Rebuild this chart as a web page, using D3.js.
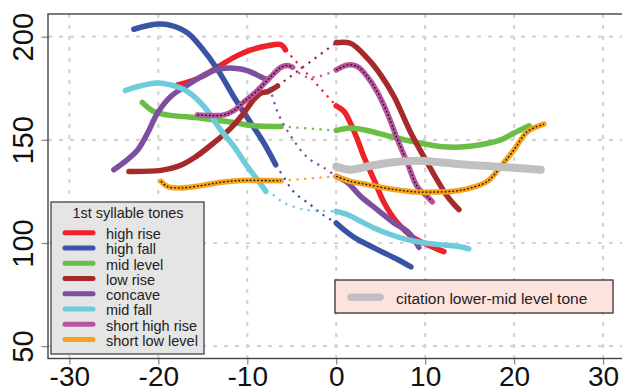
<!DOCTYPE html>
<html>
<head>
<meta charset="utf-8">
<script src="https://cdn.jsdelivr.net/npm/d3@7"></script>
<style>
  html, body { margin: 0; padding: 0; background: #fff; }
  svg { display: block; font-family: "Liberation Sans", Arial, sans-serif; }
</style>
</head>
<body>
<svg id="chart" width="622" height="391"></svg>
<script>
// F0 contours (Hz) over normalised time, first and second syllable
const toneNames = ["high rise", "high fall", "mid level", "low rise",
                   "concave", "mid fall", "short high rise", "short low level"];

const highRise1 = [[-17.8,176.6],[-15.2,180.4],[-13.35,185.2],[-11.5,190.0],[-9.6,193.6],[-7.7,195.6],[-6.2,196.1],[-5.7,193.6]];
const highRise2 = [[0,166.5],[0.9,163.7],[1.6,158.1],[2.4,150.0],[3.1,141.9],[4.25,130.7],[5.4,119.4],[6.9,109.7],[8.7,102.5],[10.25,99.2],[12.1,95.8]];

const highFall1 = [[-22.75,203.6],[-20.1,206.1],[-18.6,205.5],[-16.7,201.8],[-15.2,195.0],[-13.3,183.9],[-11.5,170.8],[-9.6,158.2],[-8.15,148.6],[-6.8,137.9]];
const highFall2 = [[0,109.7],[0.85,106.5],[2.4,101.7],[3.9,98.4],[5.3,95.4],[6.9,92.0],[8.4,88.4]];

const midLevel1 = [[-21.8,168.1],[-20.5,163.7],[-19.0,162.1],[-15.2,160.5],[-11.5,158.4],[-9.3,156.8],[-6.2,156.5]];
const midLevel2 = [[0,154.5],[1.6,155.7],[3.5,154.5],[6.1,151.6],[9.1,148.7],[11.7,146.8],[14.0,146.5],[16.2,147.6],[18.5,150.0],[20.0,153.3],[21.7,156.8]];

const lowRise1 = [[-23.3,134.7],[-19.7,135.2],[-17.8,137.1],[-16.0,141.2],[-13.8,148.4],[-11.85,155.7],[-10.4,162.9],[-9.3,169.4],[-8.5,172.6],[-7.7,173.4],[-6.6,176.1]];
const lowRise2 = [[0,197.1],[1.6,196.8],[3.5,189.6],[5.0,181.5],[6.5,171.0],[8.4,153.3],[10.25,138.8],[12.5,122.6],[13.8,116.2]];

const concave1 = [[-25.0,135.5],[-23.5,140.3],[-22.3,145.2],[-21.2,153.3],[-20.1,162.9],[-18.6,171.0],[-16.7,176.6],[-14.5,182.3],[-13.0,184.4],[-11.5,184.7],[-10.0,183.6],[-8.5,180.6],[-7.7,179.1]];
const concave2 = [[0,132.3],[1.3,129.1],[2.75,122.6],[4.6,116.2],[6.5,109.7],[8.0,105.7],[8.9,100.8],[9.3,97.9]];

const midFall1 = [[-23.7,173.9],[-22.6,175.5],[-20.1,177.5],[-18.6,176.6],[-16.7,173.4],[-14.85,166.1],[-13.0,154.9],[-11.5,146.8],[-10.0,137.1],[-8.85,130.7],[-7.9,125.0]];
const midFall2 = [[0,115.3],[1.3,113.7],[2.75,110.5],[4.25,107.3],[6.1,104.1],[8.0,101.6],[9.9,100.0],[11.7,99.2],[13.6,98.4],[14.9,97.1]];

const shortHighRise1 = [[-15.6,162.1],[-14.1,161.8],[-12.6,162.1],[-11.5,164.2],[-10.4,168.3],[-8.85,173.9],[-7.4,180.4],[-6.2,185.2],[-5.5,186.0],[-4.9,185.2]];
const shortHighRise2 = [[0,183.9],[1.3,186.3],[2.4,185.5],[3.5,180.6],[4.6,173.4],[5.75,162.9],[6.9,150.0],[8.0,138.8],[9.1,127.4],[10.4,121.8],[10.8,119.9]];

const shortLowLevel1 = [[-19.7,129.9],[-19.0,127.4],[-17.5,126.7],[-15.2,127.8],[-13.0,129.4],[-10.7,130.3],[-8.5,130.3],[-6.2,130.2]];
const shortLowLevel2 = [[0,132.3],[1.6,129.9],[3.5,128.3],[5.4,126.7],[7.25,125.5],[9.1,124.7],[11.0,124.7],[12.9,125.0],[14.7,126.2],[17.0,129.9],[18.5,137.1],[20.0,145.2],[21.5,154.0],[23.35,157.6]];

// contour through the consonant interval between the syllables (interior points only)
const highRiseGap = [];
const highFallGap = [[-5.7,130.6],[-4.8,124.9],[-2.9,118.5],[-1.5,113.7]];
const midLevelGap = [];
const lowRiseGap = [];
const concaveGap = [[-6.5,162.6],[-4.9,150.5],[-3.2,141.3],[-1.4,136.5]];
const midFallGap = [[-7.1,123.4],[-5.9,119.5],[-3.6,116.2],[-2.1,115.7]];
const shortHighRiseGap = [[-3.4,180.5],[-1.7,181.0]];
const shortLowLevelGap = [];

// citation form of the lower-mid level tone
const citationName = "citation lower-mid level tone";
const citation = [[0,137.1],[1.6,135.5],[3.5,137.1],[5.75,138.8],[9.1,139.9],[11.7,139.1],[14.7,137.9],[17.7,137.1],[20.4,136.3],[23.0,135.5]];

const xTicks = [-30, -20, -10, 0, 10, 20, 30];
const yTicks = [50, 100, 150, 200];

const firstSyllable = [highRise1, highFall1, midLevel1, lowRise1, concave1, midFall1, shortHighRise1, shortLowLevel1];
const secondSyllable = [highRise2, highFall2, midLevel2, lowRise2, concave2, midFall2, shortHighRise2, shortLowLevel2];
const gaps = [highRiseGap, highFallGap, midLevelGap, lowRiseGap, concaveGap, midFallGap, shortHighRiseGap, shortLowLevelGap];

// styling
const colors = ["#ee2229", "#3a53a4", "#6abd45", "#a52a2a", "#7e4f9f", "#6dcbdc", "#b9559f", "#f7a21b"];
const dottedOverlay = [false, false, false, false, false, false, true, true];
const citationColor = "#c0c0c0";

const svg = d3.select("#chart");
const plot = { left: 48, right: 624.4, top: 14, bottom: 358.5 };

const x = d3.scaleLinear().domain([-32.4, 32.4]).range([plot.left, plot.right]);
const y = d3.scaleLinear().domain([44, 211]).range([plot.bottom, plot.top]);

// grid
const grid = svg.append("g").attr("class", "grid");
grid.selectAll("line.v").data(xTicks).join("line")
  .attr("x1", d => x(d)).attr("x2", d => x(d))
  .attr("y1", plot.top).attr("y2", plot.bottom)
  .attr("stroke", "#d4d4d4").attr("stroke-width", 2.2)
  .attr("stroke-dasharray", "4,7");
grid.selectAll("line.h").data(yTicks).join("line")
  .attr("x1", plot.left).attr("x2", plot.right)
  .attr("y1", d => y(d)).attr("y2", d => y(d))
  .attr("stroke", "#d4d4d4").attr("stroke-width", 2.2)
  .attr("stroke-dasharray", "4,7");

const line = d3.line().x(d => x(d[0])).y(d => y(d[1])).curve(d3.curveCatmullRom);

const marks = svg.append("g").attr("class", "contours");

toneNames.forEach((name, i) => {
  const s1 = firstSyllable[i], s2 = secondSyllable[i];
  const bridge = [s1[s1.length - 1], ...gaps[i], s2[0]];
  marks.append("path").datum(bridge)
    .attr("d", line).attr("fill", "none")
    .attr("stroke", colors[i]).attr("stroke-width", 2.2)
    .attr("stroke-dasharray", "2.2,5.5");
  [s1, s2].forEach(seg => {
    marks.append("path").datum(seg)
      .attr("d", line).attr("fill", "none")
      .attr("stroke", colors[i]).attr("stroke-width", 5.5)
      .attr("stroke-linecap", "round").attr("stroke-linejoin", "round");
    if (dottedOverlay[i]) {
      marks.append("path").datum(seg)
        .attr("d", line).attr("fill", "none")
        .attr("stroke", "#111").attr("stroke-width", 1.3)
        .attr("stroke-dasharray", "1.8,2");
    }
  });
});

marks.append("path").datum(citation)
  .attr("d", line).attr("fill", "none")
  .attr("stroke", citationColor).attr("stroke-width", 8)
  .attr("stroke-linecap", "round").attr("stroke-linejoin", "round");

// axes
const xAxis = svg.append("g")
  .attr("transform", `translate(0,${plot.bottom})`)
  .call(d3.axisBottom(x).tickValues(xTicks).tickSize(6).tickSizeOuter(0).tickFormat(d => String(d)));
xAxis.select(".domain").remove();
xAxis.selectAll("line").attr("stroke", "#8a8a8a").attr("stroke-width", 1.3);
xAxis.selectAll("text")
  .attr("y", 27).attr("dy", 0)
  .attr("fill", "#111").attr("font-size", 28)
  .attr("font-family", "Liberation Sans, Arial, sans-serif");

const yAxis = svg.append("g")
  .attr("transform", `translate(${plot.left},0)`)
  .call(d3.axisLeft(y).tickValues(yTicks).tickSize(6.5).tickSizeOuter(0));
yAxis.select(".domain").remove();
yAxis.selectAll("line").attr("stroke", "#8a8a8a").attr("stroke-width", 1.3);
yAxis.selectAll("text")
  .attr("transform", "rotate(-90)")
  .attr("x", 0).attr("y", -15).attr("dy", 0)
  .attr("text-anchor", "middle")
  .attr("fill", "#111").attr("font-size", 29)
  .attr("font-family", "Liberation Sans, Arial, sans-serif");

// plot frame
svg.append("rect")
  .attr("x", plot.left).attr("y", plot.top)
  .attr("width", plot.right - plot.left).attr("height", plot.bottom - plot.top)
  .attr("fill", "none").attr("stroke", "#444").attr("stroke-width", 1.4);

// tone legend
const lg = svg.append("g").attr("class", "legend");
lg.append("rect")
  .attr("x", 51).attr("y", 202).attr("width", 153).attr("height", 152)
  .attr("fill", "#e5e5e5").attr("stroke", "#444").attr("stroke-width", 1.3);
lg.append("text")
  .attr("x", 128).attr("y", 217.5).attr("text-anchor", "middle")
  .attr("font-size", 14.5).attr("fill", "#222")
  .text("1st syllable tones");
const rows = lg.selectAll("g.row").data(toneNames).join("g")
  .attr("transform", (d, i) => `translate(0,${239 + i * 15.25})`);
rows.append("line")
  .attr("x1", 65).attr("x2", 93).attr("y1", -6.3).attr("y2", -6.3)
  .attr("stroke", (d, i) => colors[i]).attr("stroke-width", 5)
  .attr("stroke-linecap", "round");
rows.append("text")
  .attr("x", 106).attr("y", 0)
  .attr("font-size", 14.5).attr("fill", "#222")
  .text(d => d);

// citation legend
const lg2 = svg.append("g").attr("class", "legend2");
lg2.append("rect")
  .attr("x", 335).attr("y", 280).attr("width", 278).attr("height", 33)
  .attr("fill", "#fde3de").attr("stroke", "#333").attr("stroke-width", 1.3);
lg2.append("line")
  .attr("x1", 351).attr("x2", 380).attr("y1", 297.3).attr("y2", 297.3)
  .attr("stroke", citationColor).attr("stroke-width", 7.5)
  .attr("stroke-linecap", "round");
lg2.append("text")
  .attr("x", 396).attr("y", 303.5)
  .attr("font-size", 15.5).attr("fill", "#222")
  .text(citationName);
</script>
</body>
</html>
